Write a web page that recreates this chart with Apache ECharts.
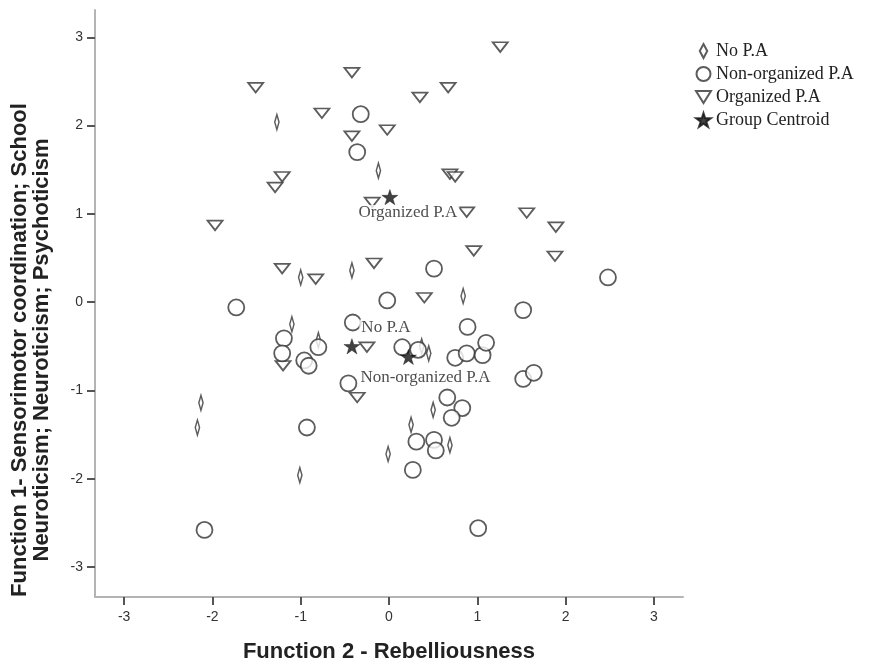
<!DOCTYPE html>
<html>
<head>
<meta charset="utf-8">
<script src="https://cdn.jsdelivr.net/npm/echarts@6/dist/echarts.min.js"></script>
<style>html,body{margin:0;padding:0;background:#fff;overflow:hidden}#c{width:869px;height:660px}</style>
</head>
<body>
<div id="c"></div>
<script>
// ---- data (Function 2, Function 1) ----
var noPA = [
  [-1.27, 2.04], [-0.12, 1.49], [-1.00, 0.28], [-0.42, 0.36], [0.84, 0.07],
  [-1.10, -0.25], [-0.80, -0.43], [0.37, -0.50], [0.45, -0.58], [0.50, -1.22],
  [0.25, -1.39], [0.69, -1.62], [-0.01, -1.72], [-1.01, -1.96], [-2.13, -1.14],
  [-2.17, -1.42]
];
var organizedPA = [
  [1.26, 2.89], [-1.51, 2.43], [-0.42, 2.60], [0.35, 2.32], [0.67, 2.43],
  [-0.76, 2.14], [-0.42, 1.88], [-0.02, 1.95], [-1.21, 1.42], [-1.29, 1.30],
  [0.69, 1.45], [0.75, 1.42], [-1.97, 0.87], [0.88, 1.02], [1.56, 1.01],
  [1.89, 0.85], [1.88, 0.52], [0.96, 0.58], [-0.17, 0.44], [-1.21, 0.38],
  [-0.83, 0.26], [0.40, 0.05], [-0.25, -0.51], [-0.36, -1.08], [-1.20, -0.72],
  [-0.19, 1.13]
];
var nonOrganizedPA = [
  [-0.32, 2.13], [-0.36, 1.70], [0.51, 0.38], [2.48, 0.28], [-1.73, -0.06],
  [-0.02, 0.02], [1.52, -0.09], [-0.41, -0.23], [0.89, -0.28], [-1.19, -0.41],
  [-1.21, -0.58], [-0.96, -0.66], [-0.91, -0.72], [-0.80, -0.51], [0.15, -0.51],
  [0.33, -0.54], [0.75, -0.63], [0.88, -0.58], [1.06, -0.60], [1.10, -0.46],
  [1.52, -0.87], [1.64, -0.80], [-0.46, -0.92], [0.66, -1.08], [0.83, -1.20],
  [0.71, -1.31], [-0.93, -1.42], [0.31, -1.58], [0.51, -1.56], [0.53, -1.68],
  [0.27, -1.90], [-2.09, -2.58], [1.01, -2.56]
];
var centroidNames = ['Organized P.A', 'No P.A', 'Non-organized P.A'];
var centroidValues = [[0.01, 1.19], [-0.42, -0.50], [0.22, -0.62]];
var tickValues = [-3, -2, -1, 0, 1, 2, 3];
var legendNames = ['No P.A', 'Non-organized P.A', 'Organized P.A', 'Group Centroid'];
var xTitle = 'Function 2 - Rebelliousness';
var yTitle = 'Function 1- Sensorimotor coordination; School\nNeuroticism; Neuroticism; Psychoticism';

var STAR = 'path://M50,0L61.2,34.5L97.6,34.5L68.2,55.9L79.4,90.5L50,69.1L20.6,90.5L31.8,55.9L2.4,34.5L38.8,34.5Z';
var TRI = 'path://M0,0L20,0L10,16Z';
var DIAMOND = 'path://M4,0L8,7.5L4,15L0,7.5Z';
var markerStroke = '#333';

var labelPos = [
  {position: 'bottom', distance: 0, offset: [18, 0]},
  {position: 'top', distance: 0, offset: [34, -3]},
  {position: 'bottom', distance: 5, offset: [17, 0]}
];
var centroidData = centroidValues.map(function (v, i) {
  return {
    name: centroidNames[i],
    value: v,
    label: {
      show: true,
      formatter: centroidNames[i],
      position: labelPos[i].position,
      distance: labelPos[i].distance,
      offset: labelPos[i].offset,
      fontFamily: 'Liberation Serif',
      fontSize: 17,
      color: '#222',
      backgroundColor: '#fff',
      padding: [0, 2, 0, 2],
      lineHeight: 16
    }
  };
});

var el = document.getElementById('c');
var chart = echarts.init(el, null, {renderer: 'canvas'});
var axisCommon = {
  type: 'value',
  splitLine: {show: false},
  axisLine: {show: true, onZero: false, lineStyle: {color: '#b4b4b4', width: 2}},
  axisTick: {show: true, inside: false, length: 8, customValues: tickValues, lineStyle: {color: '#555', width: 2}},
  axisLabel: {customValues: tickValues, color: '#333', fontFamily: 'Liberation Sans', fontSize: 14},
  nameTextStyle: {fontFamily: 'Liberation Sans', fontWeight: 'bold', fontSize: 22, color: '#222'}
};
chart.setOption({
  animation: false,
  backgroundColor: '#fff',
  grid: {left: 95, right: 186, top: 10, bottom: 63, containLabel: false, outerBoundsMode: 'none'},
  legend: {
    orient: 'vertical',
    left: 690,
    top: 37,
    itemWidth: 15,
    itemHeight: 14,
    itemGap: 5,
    data: legendNames,
    textStyle: {fontFamily: 'Liberation Serif', fontSize: 18, lineHeight: 18, color: '#222'},
    selectedMode: false
  },
  graphic: [
    {
      type: 'text',
      x: 31, y: 350,
      rotation: Math.PI / 2,
      style: {
        text: yTitle,
        fontFamily: 'Liberation Sans', fontWeight: 'bold', fontSize: 22,
        lineHeight: 22,
        fill: '#222',
        align: 'center', verticalAlign: 'middle'
      }
    }
  ],
  xAxis: Object.assign({}, axisCommon, {
    min: -3.33, max: 3.33,
    name: xTitle,
    nameLocation: 'middle',
    nameGap: 44,
    axisLabel: Object.assign({}, axisCommon.axisLabel, {margin: 13})
  }),
  yAxis: Object.assign({}, axisCommon, {
    min: -3.34, max: 3.31,
    axisLabel: Object.assign({}, axisCommon.axisLabel, {margin: 12})
  }),
  series: [
    {
      name: 'No P.A', type: 'scatter', data: noPA, z: 2,
      symbol: DIAMOND, symbolSize: [8, 15], symbolKeepAspect: true,
      itemStyle: {color: '#fff', borderColor: markerStroke, borderWidth: 1.8}
    },
    {
      name: 'Organized P.A', type: 'scatter', data: organizedPA, z: 3,
      symbol: TRI, symbolSize: [15, 12], symbolKeepAspect: true,
      itemStyle: {color: '#fff', borderColor: markerStroke, borderWidth: 1.8}
    },
    {
      name: 'Non-organized P.A', type: 'scatter', data: nonOrganizedPA, z: 4,
      symbol: 'circle', symbolSize: 16,
      itemStyle: {color: '#fff', borderColor: markerStroke, borderWidth: 1.8}
    },
    {
      name: 'Group Centroid', type: 'scatter', data: centroidData, z: 10,
      symbol: STAR, symbolSize: 16, symbolKeepAspect: true,
      itemStyle: {color: '#111', borderColor: '#111', borderWidth: 0.5}
    }
  ]
});
</script>
</body>
</html>
